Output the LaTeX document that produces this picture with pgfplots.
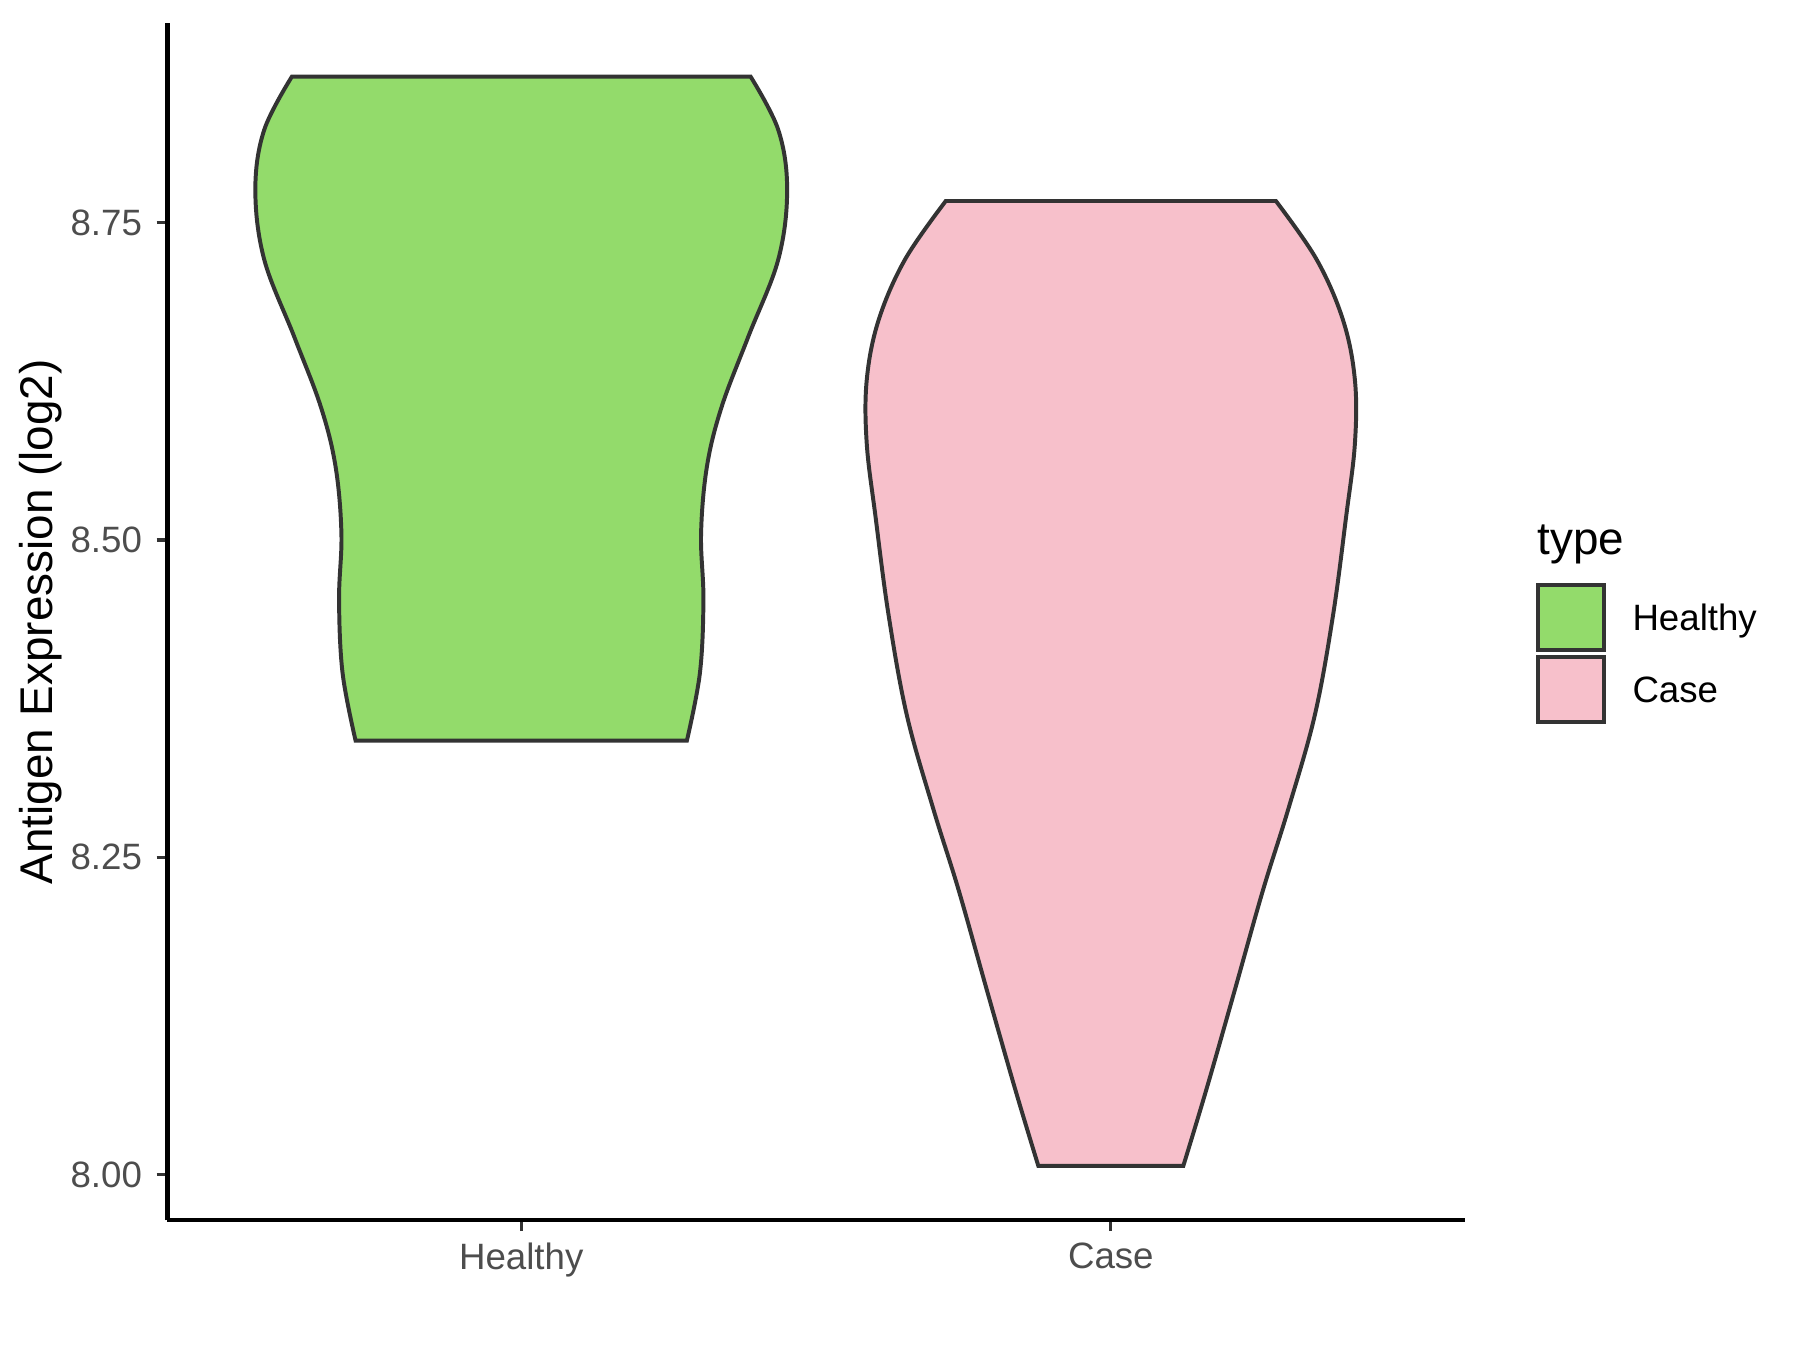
\documentclass[border=0pt]{standalone}
\usepackage{pgfplots}
\pgfplotsset{compat=1.18}
\usepackage{fontspec}
\setmainfont{Liberation Sans}
\definecolor{hgreen}{HTML}{93DB6B}
\definecolor{cpink}{HTML}{F7C0CB}
\definecolor{outl}{HTML}{333333}
\definecolor{ticklab}{HTML}{4D4D4D}
\begin{document}
\begin{tikzpicture}
\useasboundingbox (0,0) rectangle (432pt,324pt);
\begin{axis}[
  at={(40.2pt,31.1pt)}, anchor=south west,
  scale only axis, width=311.3pt, height=287.3pt,
  xmin=0.4, xmax=2.6, ymin=7.964, ymax=8.907,
  axis lines*=left,
  axis line style={black, line width=1pt},
  xtick={1,2}, xticklabels={Healthy,Case},
  ytick={8,8.25,8.5,8.75},
  yticklabels={8.00,8.25,8.50,8.75},
  tick align=outside,
  tick style={outl, line width=0.8pt},
  major tick length=2.6pt,
  ticklabel style={font=\fontsize{8.8}{10}\selectfont, text=ticklab},
  xticklabel style={yshift=0.8pt},
  ylabel={Antigen Expression (log2)},
  ylabel style={font=\fontsize{11}{13}\selectfont, at={(axis description cs:-0.0975,0.5)}, anchor=center},
  clip=false,
]
% Healthy violin: left outline top->bottom, then right outline bottom->top
% (x = 1 -/+ half-width, y = value)
\addplot[fill=hgreen, draw=outl, line width=0.95pt, smooth, tension=0.6] coordinates {
 (0.611,8.865) (0.564,8.823) (0.549,8.776) (0.564,8.721) (0.615,8.660)
 (0.660,8.605) (0.685,8.558) (0.695,8.505) (0.691,8.453) (0.697,8.395)
 (0.719,8.342)
} -- plot[smooth, tension=0.6] coordinates {
 (1.281,8.342) (1.303,8.395) (1.309,8.453) (1.305,8.505) (1.315,8.558)
 (1.340,8.605) (1.385,8.660) (1.436,8.721) (1.451,8.776) (1.436,8.823)
 (1.389,8.865)
} -- cycle;
% Case violin
\addplot[fill=cpink, draw=outl, line width=0.95pt, smooth, tension=0.6] coordinates {
 (1.720,8.767) (1.651,8.721) (1.606,8.673) (1.586,8.626) (1.586,8.576)
 (1.601,8.518) (1.623,8.441) (1.654,8.362) (1.699,8.288) (1.742,8.224)
 (1.790,8.145) (1.838,8.067) (1.877,8.007)
} -- plot[smooth, tension=0.6] coordinates {
 (2.123,8.007) (2.162,8.067) (2.210,8.145) (2.258,8.224) (2.301,8.288)
 (2.346,8.362) (2.377,8.441) (2.399,8.518) (2.414,8.576) (2.414,8.626)
 (2.394,8.673) (2.349,8.721) (2.280,8.767)
} -- cycle;
\end{axis}
% legend
\node[anchor=base west, inner sep=0, font=\fontsize{11}{13}\selectfont] at (368.8pt,190.8pt) {type};
\draw[outl, line width=0.95pt, fill=hgreen] (369.2pt,168.0pt) rectangle (385.0pt,183.6pt);
\draw[outl, line width=0.95pt, fill=cpink] (369.2pt,150.8pt) rectangle (385.0pt,166.4pt);
\node[anchor=base west, inner sep=0, font=\fontsize{8.8}{10}\selectfont] at (391.6pt,172.6pt) {Healthy};
\node[anchor=base west, inner sep=0, font=\fontsize{8.8}{10}\selectfont] at (391.6pt,155.4pt) {Case};
\end{tikzpicture}
\end{document}
